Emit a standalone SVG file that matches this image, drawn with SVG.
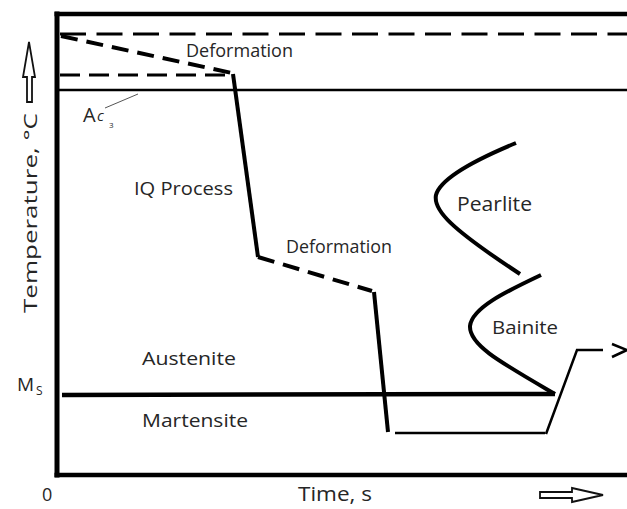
<svg xmlns="http://www.w3.org/2000/svg" width="627" height="509" viewBox="0 0 627 509">
<style>
text{font-family:"Open Sans","Liberation Sans",sans-serif;fill:#262626}
.lbl{font-size:18px}
.thick{stroke:#000;stroke-width:4.5;fill:none}
.path{stroke:#000;stroke-width:4;fill:none;stroke-linejoin:round}
.dash{stroke-dasharray:17 9}
.thin{stroke:#000;stroke-width:2.5;fill:none}
.ghost{stroke:#111;stroke-width:1.8;fill:#fff}
</style>
<rect width="627" height="509" fill="#fff"/>
<g id="frame">
<line class="thick" x1="57" y1="11.5" x2="57" y2="477.5" style="stroke-width:5"/>
<line class="thick" x1="54.5" y1="14" x2="627" y2="14"/>
<line class="thick" x1="54.5" y1="475" x2="627" y2="475"/>
</g>
<g id="reference-lines">
<line x1="60" y1="34" x2="627" y2="34" stroke="#000" stroke-width="3" stroke-dasharray="26 10.5"/>
<line x1="60" y1="75" x2="232" y2="75" stroke="#000" stroke-width="3" stroke-dasharray="20 9"/>
<line class="thin" x1="57" y1="90" x2="627" y2="90"/>
<line class="path" x1="62" y1="395" x2="555" y2="394" style="stroke-width:4.5"/>
<line x1="105" y1="108" x2="138" y2="94" stroke="#555" stroke-width="1"/>
</g>
<g id="connectors">
<path class="path dash" d="M61,36 L232,73"/>
<path class="path" d="M233,74 L258,257"/>
<path class="path dash" d="M258,257 L372,291"/>
<path class="path" d="M374,292 L388,432"/>
<polyline class="thin" points="395,433 545,433"/>
<polyline class="thin" points="546,434 577,350 603,350"/>
<polyline points="612,344 627,350 612,357" fill="none" stroke="#000" stroke-width="2.5"/>
</g>
<g id="pearlite-curve">
<path class="path" d="M516,143 C470,162 440,180 436,195 C433,210 450,228 520,274"/>
</g>
<g id="bainite-curve">
<path class="path" d="M541,275 C505,292 472,308 470,326 C469,345 500,362 555,394"/>
</g>
<g id="axis-arrows">
<path class="ghost" d="M29,42 L35,77 L32,77 L32,102 L27,102 L27,77 L23,77 Z"/>
<path class="ghost" d="M540,492 L572,492 L572,488 L603,495 L572,502 L572,498 L540,498 Z"/>
</g>
<g id="labels">
<text class="lbl" x="186" y="57" font-size="17" textLength="107" lengthAdjust="spacingAndGlyphs">Deformation</text>
<text class="lbl" x="286" y="253" font-size="17" textLength="106" lengthAdjust="spacingAndGlyphs">Deformation</text>
<text class="lbl" x="134" y="195" textLength="99" lengthAdjust="spacingAndGlyphs">IQ Process</text>
<text class="lbl" x="457" y="211" style="font-size:20px" textLength="75" lengthAdjust="spacingAndGlyphs">Pearlite</text>
<text class="lbl" x="492" y="334" textLength="66" lengthAdjust="spacingAndGlyphs">Bainite</text>
<text class="lbl" x="142" y="365" textLength="94" lengthAdjust="spacingAndGlyphs">Austenite</text>
<text class="lbl" x="142" y="427" textLength="106" lengthAdjust="spacingAndGlyphs">Martensite</text>
<text x="298" y="501" style="font-size:20px" textLength="74" lengthAdjust="spacingAndGlyphs">Time, s</text>
<text x="42" y="501" style="font-size:18px">0</text>
<text x="17" y="391" style="font-size:19px">M<tspan x="36" y="395" style="font-size:12px">S</tspan></text>
<text x="83" y="122" style="font-size:20px">A<tspan x="97" y="121" style="font-size:15px;font-style:italic">c</tspan><tspan x="109" y="128" style="font-size:8px">3</tspan></text>
<text transform="translate(36.5,313) rotate(-90)" style="font-size:19px" textLength="200" lengthAdjust="spacingAndGlyphs">Temperature, °C</text>
</g>
</svg>
